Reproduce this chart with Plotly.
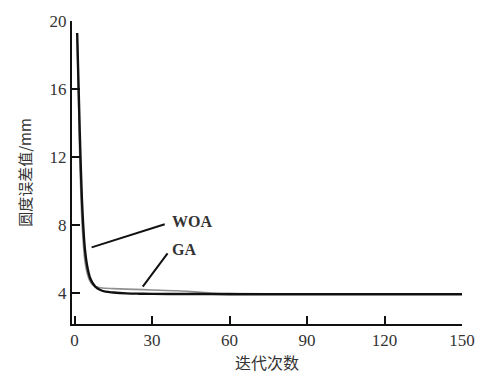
import plotly.graph_objects as go

woa_x = [1, 2, 3, 4, 5, 6, 7, 8, 10, 12, 15, 20, 25, 30, 40, 50, 60, 80, 100, 120, 150]
woa_y = [19.3, 13.5, 9.0, 6.6, 5.5, 4.9, 4.6, 4.4, 4.2, 4.1, 4.05, 4.0, 3.98, 3.97, 3.96, 3.96, 3.95, 3.95, 3.95, 3.95, 3.95]
ga_x = [1, 2, 3, 4, 5, 6, 7, 8, 10, 12, 15, 20, 30, 40, 50, 60, 80, 100, 150]
ga_y = [19.0, 12.0, 7.8, 5.9, 5.1, 4.7, 4.5, 4.4, 4.33, 4.3, 4.28, 4.25, 4.2, 4.15, 4.05, 4.0, 3.97, 3.96, 3.95]

x_ticks = [0, 30, 60, 90, 120, 150]
y_ticks = [4, 8, 12, 16, 20]

serif = "Liberation Serif, DejaVu Serif, serif"
cjk = "Noto Sans CJK SC"

fig = go.Figure()
fig.add_trace(go.Scatter(x=ga_x, y=ga_y, mode="lines", name="GA",
                         line=dict(color="#8f8f8f", width=1.6, shape="spline")))
fig.add_trace(go.Scatter(x=woa_x, y=woa_y, mode="lines", name="WOA",
                         line=dict(color="#111111", width=2.4, shape="spline")))

# leader lines + labels
fig.add_trace(go.Scatter(x=[6.6, 34.9], y=[6.7, 8.06], mode="lines", showlegend=False,
                         line=dict(color="#111111", width=2)))
fig.add_trace(go.Scatter(x=[26.4, 36.0], y=[4.4, 6.35], mode="lines", showlegend=False,
                         line=dict(color="#111111", width=2)))
fig.add_annotation(x=37.0, y=8.2, text="<b>WOA</b>", showarrow=False, xanchor="left",
                   font=dict(family=serif, size=16, color="#333"))
fig.add_annotation(x=36.8, y=6.55, text="<b>GA</b>", showarrow=False, xanchor="left",
                   font=dict(family=serif, size=16, color="#333"))

fig.update_layout(
    width=478, height=376,
    margin=dict(l=72, r=16, t=21, b=52),
    paper_bgcolor="white", plot_bgcolor="white",
    showlegend=False,
)
fig.update_xaxes(range=[-1, 150], tickvals=x_ticks, ticks="inside", ticklen=8, tickwidth=2,
                 tickcolor="#111", showline=True, linecolor="#111", linewidth=2,
                 showgrid=False, zeroline=False, automargin=False,
                 tickfont=dict(family=serif, size=17, color="#333"),
                 title=dict(text="迭代次数", font=dict(family=cjk, size=16, color="#333"), standoff=0))
fig.update_yaxes(range=[2.2, 20], tickvals=y_ticks, ticks="inside", ticklen=8, tickwidth=2,
                 tickcolor="#111", showline=True, linecolor="#111", linewidth=2,
                 showgrid=False, zeroline=False, automargin=False,
                 tickfont=dict(family=serif, size=17, color="#333"),
                 title=dict(text="圆度误差值/mm", font=dict(family=cjk, size=15, color="#333"), standoff=14))

fig.write_html("out.html", config={"displayModeBar": False},
               post_script="document.body.style.margin='0';document.body.style.overflow='hidden';")
